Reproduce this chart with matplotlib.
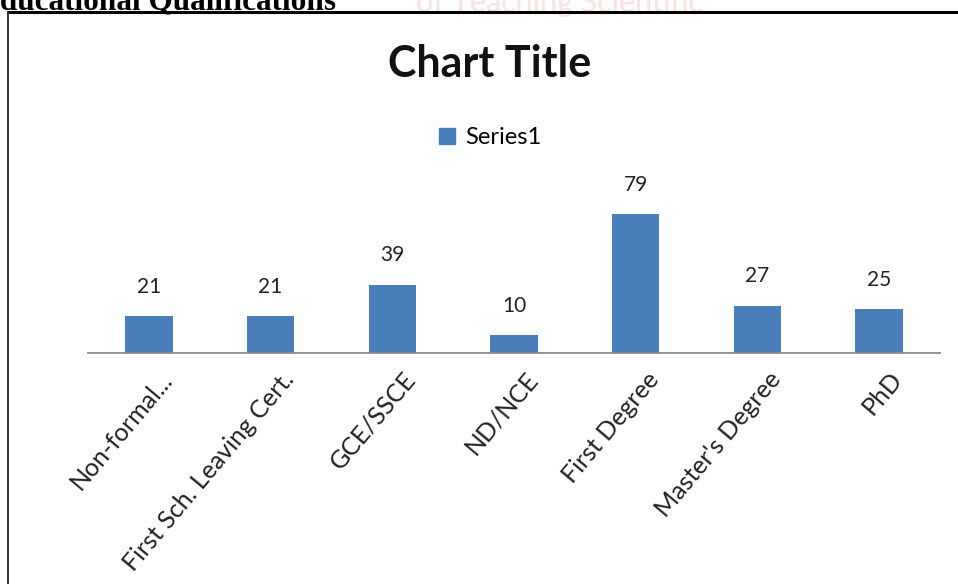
import matplotlib.pyplot as plt
from matplotlib.lines import Line2D
from matplotlib.patches import Patch
from matplotlib.transforms import ScaledTranslation

categories = ["Non-formal...", "First Sch. Leaving Cert.", "GCE/SSCE", "ND/NCE",
              "First Degree", "Master's Degree", "PhD"]
values = [21, 21, 39, 10, 79, 27, 25]
series_name = "Series1"

W, H = 958, 584
fig = plt.figure(figsize=(W / 100, H / 100), dpi=100)
plt.rcParams['font.family'] = ['Lato', 'DejaVu Sans']

# plot area
ax = fig.add_axes([88 / W, 1 - 353 / H, (940 - 88) / W, (353 - 195) / H])
x = range(len(categories))
bars = ax.bar(x, values, width=0.39, color="#4a7ebb")
ax.set_xlim(-0.5, len(categories) - 0.5)
ax.set_ylim(0, 90)

for b, v in zip(bars, values):
    ax.annotate(str(v), (b.get_x() + b.get_width() / 2, v), xytext=(0, 14),
                textcoords="offset points", ha="center", va="bottom",
                fontsize=15, color="#222222")

for s in ["top", "left", "right"]:
    ax.spines[s].set_visible(False)
ax.spines["bottom"].set_color("#8c8c8c")
ax.spines["bottom"].set_linewidth(1.3)
ax.set_yticks([])
ax.set_xticks(list(x))
ax.set_xticklabels(categories, rotation=50, ha="right", va="center",
                   rotation_mode="anchor", fontsize=18, color="#222222")
ax.tick_params(axis="x", length=0, pad=0)
off = ScaledTranslation(0.19, -0.22, fig.dpi_scale_trans)
for lab in ax.get_xticklabels():
    lab.set_transform(lab.get_transform() + off)

# title and legend
fig.text(490 / W, 1 - 64 / H, "Chart Title", ha="center", va="center",
         fontsize=31, fontweight="bold", color="#111111")
fig.legend(handles=[Patch(color="#4a7ebb", label=series_name)], loc="center",
           bbox_to_anchor=(490 / W, 1 - 138 / H), frameon=False, fontsize=17,
           handlelength=0.7, handleheight=0.7, handletextpad=0.4)

# faint watermark and cropped page heading
fig.text(560 / W, 1 - 12 / H, "of Teaching Scientific", ha="center", va="baseline",
         fontsize=22, color="#fbe2e2", zorder=0)
fig.text(336 / W, 1 - 9 / H, "Educational Qualifications", ha="right", va="baseline",
         fontsize=22.5, fontweight="bold", family=["Liberation Serif"], color="black")

# chart frame
fig.add_artist(Line2D([8 / W, 1], [1 - 12 / H, 1 - 12 / H], color="black", lw=2.2))
fig.add_artist(Line2D([8 / W, 8 / W], [0, 1 - 12 / H], color="#333333", lw=1.4))

fig.savefig("out.png", dpi=100)
